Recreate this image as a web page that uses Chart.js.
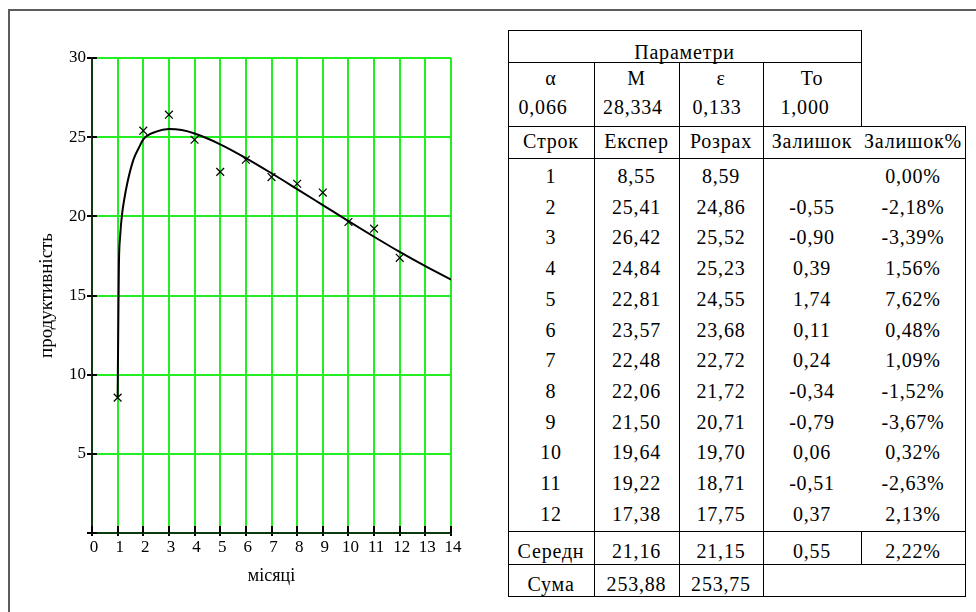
<!DOCTYPE html>
<html>
<head>
<meta charset="utf-8">
<script src="https://cdn.jsdelivr.net/npm/chart.js@4.4.1/dist/chart.umd.min.js"></script>
<style>
  html, body { margin: 0; padding: 0; background: #fff; }
  #page { position: relative; width: 976px; height: 612px; overflow: hidden;
          font-family: "Liberation Serif", Tinos, "Times New Roman", "DejaVu Serif", serif; color: #000; }
  #chart { position: absolute; left: 0; top: 0; }
  .ln { position: absolute; background: #000; }
  .frame { position: absolute; background: #5c5c5c; }
  .tx { position: absolute; height: 30px; line-height: 30px; font-size: 20px;
        letter-spacing: 0.8px; text-align: center; white-space: nowrap; }
  #probe { position: absolute; left: 600px; top: 600px; font-size: 10px; }
</style>
</head>
<body>
<div id="page">
  <canvas id="chart" width="490" height="612"></canvas>
</div>
<script>
// ---- data ----
const months       = [1, 2, 3, 4, 5, 6, 7, 8, 9, 10, 11, 12];
const experimental = [8.55, 25.41, 26.42, 24.84, 22.81, 23.57, 22.48, 22.06, 21.50, 19.64, 19.22, 17.38];
const calculated   = [8.59, 24.86, 25.52, 25.23, 24.55, 23.68, 22.72, 21.72, 20.71, 19.70, 18.71, 17.75];
const residual     = ['', '-0,55', '-0,90', '0,39', '1,74', '0,11', '0,24', '-0,34', '-0,79', '0,06', '-0,51', '0,37'];
const residualPct  = ['0,00%', '-2,18%', '-3,39%', '1,56%', '7,62%', '0,48%', '1,09%', '-1,52%', '-3,67%', '0,32%', '-2,63%', '2,13%'];

const paramNames  = ['α', 'M', 'ε', 'To'];
const paramValues = ['0,066', '28,334', '0,133', '1,000'];
const tableHeader = ['Строк', 'Експер', 'Розрах', 'Залишок', 'Залишок%'];
const meanRow     = ['Середн', '21,16', '21,15', '0,55', '2,22%'];
const sumRow      = ['Сума', '253,88', '253,75'];

// model curve: fitted monthly values plus extra points on the fast rise after T0 and beyond month 12
const curveX = [1, 1.03, 1.05, 1.1, 1.17, 1.25, 1.39, 1.62, 1.85, 2, 2.5, 3, 3.5, 4, 5, 6, 7, 8, 9, 10, 11, 12, 13, 14];
const curveY = [8.59, 14.0, 17.0, 18.8, 20.1, 21.0, 22.2, 23.6, 24.4, 24.86, 25.35, 25.52, 25.45, 25.23, 24.55, 23.68, 22.72, 21.72, 20.71, 19.70, 18.71, 17.75, 16.85, 16.0];

const xTicks = [0, 1, 2, 3, 4, 5, 6, 7, 8, 9, 10, 11, 12, 13, 14];
const yTicks = [0, 5, 10, 15, 20, 25, 30];

const xTitle = 'місяці';
const yTitle = 'продуктивність';

// ---- chart ----
const FONT = '"Liberation Serif", Tinos, "Times New Roman", "DejaVu Serif", serif';
const GRID = '#22ee22';
const AXIS = '#0b3a0b';

// short tick marks on the inner side of both axes
const innerTicks = {
  id: 'innerTicks',
  afterDraw(chart) {
    const { ctx, chartArea: a, scales: { x, y } } = chart;
    ctx.save();
    ctx.strokeStyle = '#000';
    ctx.lineWidth = 2;
    ctx.beginPath();
    xTicks.forEach(v => {
      const px = Math.round(x.getPixelForValue(v));
      ctx.moveTo(px, a.bottom);
      ctx.lineTo(px, a.bottom - 7);
    });
    yTicks.forEach(v => {
      const py = Math.round(y.getPixelForValue(v));
      ctx.moveTo(a.left, py);
      ctx.lineTo(a.left + 5, py);
    });
    ctx.stroke();
    ctx.restore();
  }
};

new Chart(document.getElementById('chart'), {
  type: 'scatter',
  data: {
    datasets: [
      {
        data: curveX.map((x, i) => ({ x, y: curveY[i] })),
        showLine: true,
        borderColor: '#000',
        borderWidth: 2,
        pointRadius: 0,
        cubicInterpolationMode: 'monotone',
        order: 2
      },
      {
        data: months.map((m, i) => ({ x: m, y: experimental[i] })),
        showLine: false,
        pointStyle: 'crossRot',
        pointRadius: 5.5,
        borderColor: '#000',
        borderWidth: 1.2,
        order: 1
      }
    ]
  },
  options: {
    responsive: false,
    animation: false,
    devicePixelRatio: 1,
    events: [],
    layout: { padding: { top: 58, right: 39, left: 0, bottom: 0 } },
    plugins: { legend: { display: false }, tooltip: { enabled: false } },
    scales: {
      x: {
        type: 'linear',
        min: 0, max: 14,
        afterBuildTicks: s => { s.ticks = xTicks.map(v => ({ value: v })); },
        afterFit: s => { s.height = 79; },
        ticks: { font: { family: FONT, size: 17 }, color: '#000', padding: 1, labelOffset: 2,
                 autoSkip: false, maxRotation: 0 },
        grid: { color: GRID, lineWidth: 2, tickLength: 3, tickColor: '#000', tickWidth: 2 },
        border: { color: AXIS, width: 2 },
        title: { display: true, text: xTitle, color: '#000', font: { family: FONT, size: 18 },
                 padding: { top: 0, bottom: 25 } }
      },
      y: {
        type: 'linear',
        min: 0, max: 30,
        afterBuildTicks: s => { s.ticks = yTicks.map(v => ({ value: v })); },
        afterFit: s => { s.width = 92; },
        ticks: { font: { family: FONT, size: 17 }, color: '#000', padding: 1,
                 callback: v => (v === 0 ? '' : String(v)) },
        grid: { color: GRID, lineWidth: 2, tickLength: 5, tickColor: '#000', tickWidth: 2 },
        border: { color: AXIS, width: 2 },
        title: { display: true, text: yTitle, color: '#000', font: { family: FONT, size: 19 },
                 padding: { top: 36, bottom: 0 } }
      }
    }
  },
  plugins: [innerTicks]
});

// ---- outer frame and parameter / residual table ----
const page = document.getElementById('page');

function box(cls, left, top, width, height) {
  const d = document.createElement('div');
  d.className = cls;
  d.style.left = left + 'px';
  d.style.top = top + 'px';
  d.style.width = width + 'px';
  d.style.height = height + 'px';
  page.appendChild(d);
}
function hline(x1, x2, y) { box('ln', x1, y, x2 - x1 + 1, 1); }
function vline(x, y1, y2) { box('ln', x, y1, 1, y2 - y1 + 1); }
function text(str, cx, cy, w) {
  const d = document.createElement('div');
  d.className = 'tx';
  d.textContent = str;
  d.style.left = (cx - w / 2) + 'px';
  d.style.width = w + 'px';
  d.style.top = (cy - 15) + 'px';
  page.appendChild(d);
}

box('frame', 8, 9, 968, 2);
box('frame', 8, 9, 2, 603);

const colEdge = [508, 594, 679, 763, 861, 965];
const colMid = [551, 636.5, 721, 812, 913];
const rowLine = { top: 30, params: 62, head: 126, headEnd: 158, body: 531, mean: 564, sum: 596 };

// grid lines of the table
hline(colEdge[0], colEdge[4], rowLine.top);
hline(colEdge[0], colEdge[4], rowLine.params);
[rowLine.head, rowLine.headEnd, rowLine.body, rowLine.mean, rowLine.sum].forEach(y => hline(colEdge[0], colEdge[5], y));
vline(colEdge[0], rowLine.top, rowLine.sum);
[1, 2, 3].forEach(i => vline(colEdge[i], rowLine.params, rowLine.sum));
vline(colEdge[4], rowLine.top, rowLine.head);
vline(colEdge[4], rowLine.body, rowLine.mean);
vline(colEdge[5], rowLine.head, rowLine.sum);

// parameters block
text('Параметри', (colEdge[0] + colEdge[4]) / 2, 52, 300);
const paramValueMid = [543, 633, 717, 805];
paramNames.forEach((t, i) => text(t, colMid[i], 78, 90));
paramValues.forEach((t, i) => text(t, paramValueMid[i], 107, 90));

// residual table
tableHeader.forEach((t, i) => text(t, colMid[i], 141, 110));
months.forEach((m, r) => {
  const cy = 176 + r * 30.7;
  const row = [String(m), experimental[r].toFixed(2).replace('.', ','),
               calculated[r].toFixed(2).replace('.', ','), residual[r], residualPct[r]];
  row.forEach((t, i) => text(t, colMid[i], cy, 100));
});
meanRow.forEach((t, i) => text(t, colMid[i], 551, 100));
sumRow.forEach((t, i) => text(t, colMid[i], 584, 100));
</script>
</body>
</html>
